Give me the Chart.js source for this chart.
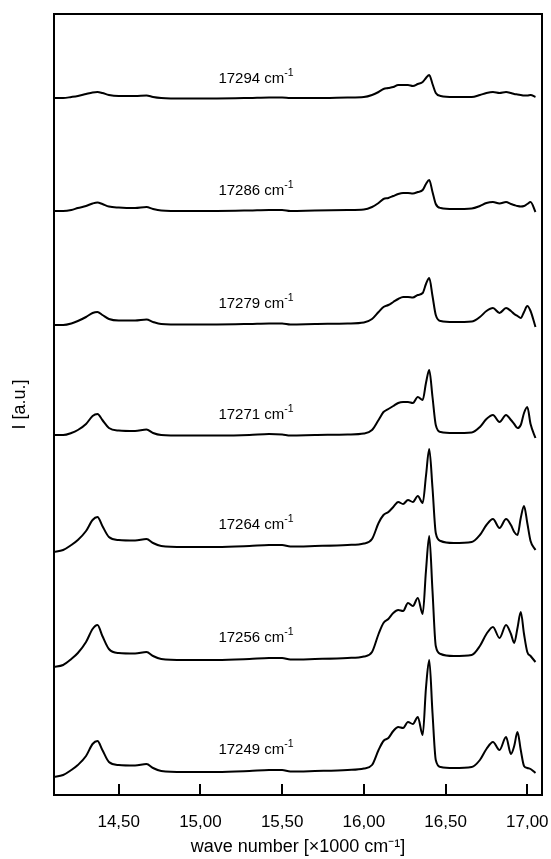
<!DOCTYPE html>
<html>
<head>
<meta charset="utf-8">
<script src="https://cdn.jsdelivr.net/npm/chart.js@4"></script>
<style>
  html, body { margin: 0; padding: 0; background: #fff; }
  canvas { display: block; }
</style>
</head>
<body>
<canvas id="spectra" width="551" height="859"></canvas>
<script>
// wave number grid, x1000 cm-1
const waveNumber = [
  14.10, 14.16, 14.21, 14.25, 14.30, 14.34, 14.37, 14.40, 14.44, 14.50, 14.60, 14.67, 14.71, 14.76, 14.90, 15.10, 15.30, 15.42, 15.50, 15.55, 15.70, 15.90, 16.00,
  16.05, 16.09, 16.12, 16.15, 16.18, 16.21, 16.24, 16.27, 16.30, 16.33, 16.36, 16.38, 16.40, 16.42, 16.44, 16.47,
  16.55, 16.66, 16.71, 16.75, 16.79, 16.83, 16.87, 16.90, 16.92, 16.94, 16.96, 16.98, 17.00, 17.02, 17.05
];

// excitation energies (cm-1), one spectrum each, top to bottom
const excitation = [17294, 17286, 17279, 17271, 17264, 17256, 17249];

// vertical stacking offset of each spectrum [a.u.]
const offsets = [698, 586, 473, 362, 252, 139, 27];

const i17294 = [
  -1, -1, 0, 1, 3, 4.5, 5, 4, 2, 1, 1, 1.5, 0, -1, -1.5, -1.5, -1, -0.5, -0.5, -1, -1, -0.5, 0,
  2, 5, 8, 9, 10, 12, 12, 12, 11, 13, 15, 19, 22, 13, 4, 1,
  0, 0, 2, 4, 5, 4, 5, 4, 3, 2.5, 2, 1.5, 1.5, 2, 0
];
const i17286 = [
  -2, -2, -1, 1, 3, 5.5, 6.5, 5, 2.5, 1.5, 1, 2, 0, -1.5, -2, -2, -1.5, -1, -1, -2, -1.5, -1, -0.5,
  2, 6, 10, 11, 13, 15, 16, 16, 15.5, 17, 19, 25, 29, 17, 5, 1,
  0, 0.5, 3, 6, 7, 5.5, 7, 5, 4, 3, 2.5, 3, 5, 7, -3
];
const i17279 = [
  -3, -3, -1.5, 1, 5, 9, 10, 7, 3, 1.5, 1.5, 2.5, 0, -2, -2.5, -2.5, -2, -1.5, -1.5, -2.5, -2, -1.5, -0.5,
  3, 10, 15, 17, 20, 23, 25, 25, 24.5, 27, 29, 38, 44, 26, 7, 1,
  0, 0.5, 5, 11, 14, 9, 14, 11, 8, 6, 4, 10, 16, 11, -5
];
const i17271 = [
  -2, -2, 0, 3, 9, 17, 19, 13, 5, 2.5, 2, 3.5, 0, -2, -2.5, -2.5, -2, -1, -1.5, -2.5, -2, -1.5, -0.5,
  3, 13, 21, 24, 27, 30, 31, 31, 30, 36, 33, 50, 63, 36, 8, 1,
  0, 0.5, 6, 14, 18, 11, 18, 13, 9, 5, 8, 20, 26, 9, -5
];
const i17264 = [
  -9, -7, -2, 3, 12, 23, 26, 17, 6, 3, 2.5, 4, 0, -3, -4, -4, -3, -2, -2, -3.5, -3, -2, -0.5,
  4, 20, 28, 31, 36, 41, 39, 43, 41, 47, 40, 67, 94, 55, 10, 2,
  0, 1, 8, 18, 24, 15, 24, 18, 11, 8, 25, 37, 20, 2, -7
];
const i17256 = [
  -11, -9, -3, 3, 14, 27, 31, 20, 7, 3, 2.5, 4, 0, -3, -4, -4, -3, -2, -2, -3.5, -3, -2, -0.5,
  4, 22, 33, 37, 43, 46, 45, 53, 50, 58, 42, 85, 120, 65, 10, 2,
  0, 1, 10, 22, 29, 18, 31, 22, 13, 28, 44, 22, 4, 0, -6
];
const i17249 = [
  -9, -7, -2, 3, 12, 24, 27, 18, 6, 3, 2.5, 4, 0, -3, -4, -4, -3, -2, -2, -3.5, -3, -2, -0.5,
  3, 18, 27, 30, 37, 41, 40, 46, 44, 51, 33, 80, 108, 55, 8, 1,
  0, 1, 8, 19, 26, 18, 31, 14, 22, 36, 18, 2, 0, -1, -5
];
const spectra = [i17294, i17286, i17279, i17271, i17264, i17256, i17249];

const tickValues = [14.5, 15.0, 15.5, 16.0, 16.5, 17.0];
const labelWave = 15.34;   // where the cm-1 labels sit
const labelLift = 20;      // label height above each baseline

const FONT = "'Liberation Sans', Arial, Helvetica, sans-serif";

const datasets = spectra.map((vals, k) => ({
  label: excitation[k] + " cm-1",
  data: waveNumber.map((x, j) => ({ x: x, y: offsets[k] + vals[j] })),
  borderColor: "#000",
  borderWidth: 2,
  pointRadius: 0,
  fill: false,
  cubicInterpolationMode: "monotone"
}));

// frame + inward x ticks
const framePlugin = {
  id: "frame",
  afterDraw(chart) {
    const { ctx, chartArea: a, scales } = chart;
    ctx.save();
    ctx.strokeStyle = "#000";
    ctx.lineWidth = 2;
    ctx.strokeRect(a.left, a.top, a.right - a.left, a.bottom - a.top);
    scales.x.ticks.forEach(t => {
      const px = Math.round(scales.x.getPixelForValue(t.value));
      ctx.beginPath();
      ctx.moveTo(px, a.bottom);
      ctx.lineTo(px, a.bottom - 11);
      ctx.stroke();
    });
    ctx.restore();
  }
};

// "17294 cm-1" style labels above each trace
const labelPlugin = {
  id: "traceLabels",
  afterDatasetsDraw(chart) {
    const { ctx, scales } = chart;
    ctx.save();
    ctx.fillStyle = "#000";
    ctx.textBaseline = "alphabetic";
    excitation.forEach((e, k) => {
      const main = e + " cm";
      ctx.font = "15px " + FONT;
      const w1 = ctx.measureText(main).width;
      ctx.font = "10.5px " + FONT;
      const w2 = ctx.measureText("-1").width;
      const cx = scales.x.getPixelForValue(labelWave);
      const cy = scales.y.getPixelForValue(offsets[k] + labelLift);
      const x0 = cx - (w1 + w2) / 2;
      const base = cy + 5.5;
      ctx.font = "15px " + FONT;
      ctx.textAlign = "left";
      ctx.fillText(main, x0, base);
      ctx.font = "10.5px " + FONT;
      ctx.fillText("-1", x0 + w1, base - 6.5);
    });
    ctx.restore();
  }
};

new Chart(document.getElementById("spectra"), {
  type: "line",
  data: { datasets: datasets },
  options: {
    responsive: false,
    animation: false,
    devicePixelRatio: 1,
    layout: { padding: { top: 14, right: 9, left: 0, bottom: 0 } },
    plugins: {
      legend: { display: false },
      tooltip: { enabled: false }
    },
    scales: {
      x: {
        type: "linear",
        min: 14.104,
        max: 17.09,
        grid: { display: false, drawTicks: false },
        border: { display: false },
        afterBuildTicks: s => { s.ticks = tickValues.map(v => ({ value: v })); },
        afterFit: s => { s.height = 64; s.paddingLeft = 0; s.paddingRight = 0; },
        ticks: {
          color: "#000",
          padding: 17,
          maxRotation: 0,
          font: { family: FONT, size: 17 },
          callback: v => v.toFixed(2).replace(".", ",")
        },
        title: {
          display: true,
          text: "wave number [\u00d71000 cm\u207b\u00b9]",
          color: "#000",
          padding: { top: 0, bottom: 1 },
          font: { family: FONT, size: 18 }
        }
      },
      y: {
        min: 0,
        max: 781,
        grid: { display: false, drawTicks: false },
        border: { display: false },
        ticks: { display: false },
        afterFit: s => { s.width = 54; },
        title: {
          display: true,
          text: "I [a.u.]",
          color: "#000",
          padding: { top: 9, bottom: 0 },
          font: { family: FONT, size: 18 }
        }
      }
    }
  },
  plugins: [framePlugin, labelPlugin]
});
</script>
</body>
</html>
